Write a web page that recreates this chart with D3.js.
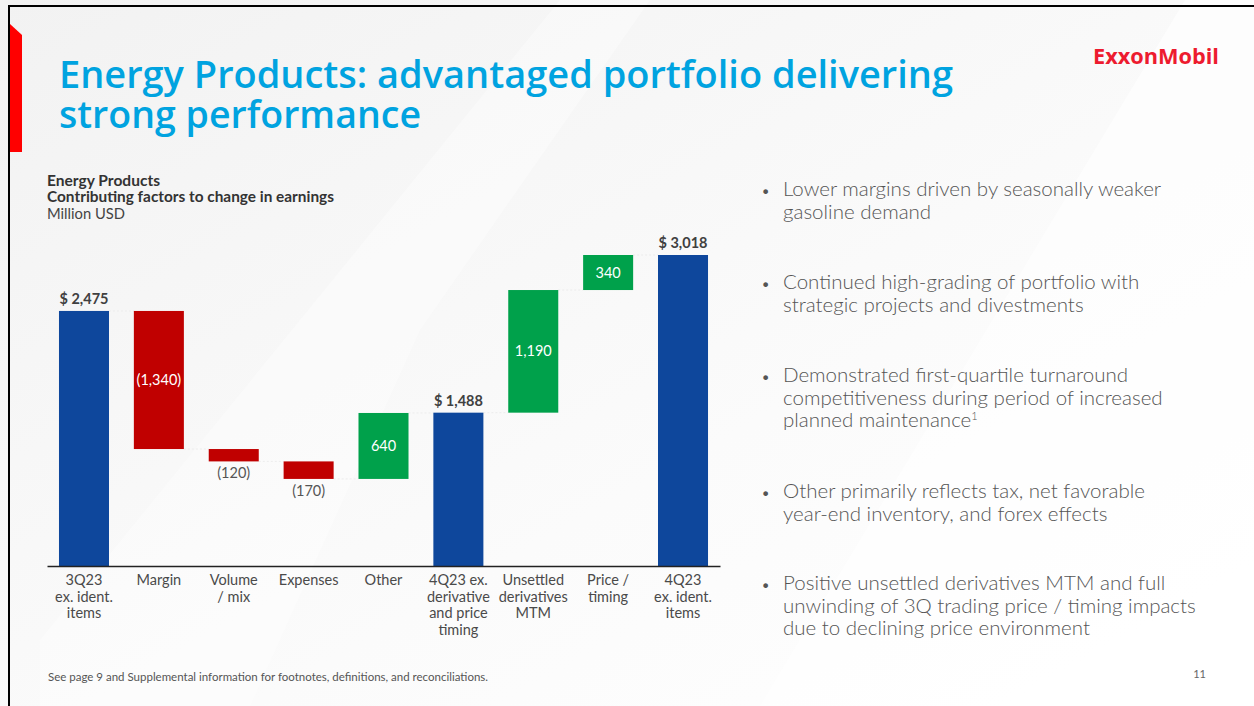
<!DOCTYPE html>
<meta charset="utf-8">
<style>
  body { margin: 0; background: #fff; }
  svg { font-family: Lato, 'Open Sans', sans-serif; display: block; }
</style>
<script src="https://d3js.org/d3.v7.min.js"></script>
<body>
<svg id="slide" width="1254" height="706"></svg>
<script>

// chart data
var categories = ["3Q23 ex. ident. items", "Margin", "Volume / mix", "Expenses", "Other",
                  "4Q23 ex. derivative and price timing", "Unsettled derivatives MTM", "Price / timing",
                  "4Q23 ex. ident. items"];
var labelLines = [["3Q23", "ex. ident.", "items"], ["Margin"], ["Volume", "/ mix"], ["Expenses"], ["Other"],
                  ["4Q23 ex.", "derivative", "and price", "timing"], ["Unsettled", "derivatives", "MTM"],
                  ["Price /", "timing"], ["4Q23", "ex. ident.", "items"]];
var values = [2475, -1340, -120, -170, 640, 1488, 1190, 340, 3018];
var isTotal = [true, false, false, false, false, true, false, false, true];

var bullets = [
  ["Lower margins driven by seasonally weaker", "gasoline demand"],
  ["Continued high-grading of portfolio with", "strategic projects and divestments"],
  ["Demonstrated first-quartile turnaround", "competitiveness during period of increased", "planned maintenance"],
  ["Other primarily reflects tax, net favorable", "year-end inventory, and forex effects"],
  ["Positive unsettled derivatives MTM and full", "unwinding of 3Q trading price / timing impacts", "due to declining price environment"]
];

var svg = d3.select("#slide");

// background
var defs = svg.append("defs");
var grad = defs.append("linearGradient").attr("id", "bg")
  .attr("x1", "0").attr("y1", "0").attr("x2", "1").attr("y2", "1");
grad.append("stop").attr("offset", "0").attr("stop-color", "#f2f2f2");
grad.append("stop").attr("offset", "0.6").attr("stop-color", "#fbfbfb");
grad.append("stop").attr("offset", "1").attr("stop-color", "#ffffff");
svg.append("rect").attr("width", 1254).attr("height", 706).attr("fill", "url(#bg)");
svg.append("polygon").attr("points", "1185,0 1254,0 1254,706 760,706")
  .attr("fill", "#ffffff").attr("opacity", 0.6);
svg.append("polygon").attr("points", "560,0 650,0 420,330 250,706 40,706 40,640")
  .attr("fill", "#ffffff").attr("opacity", 0.35);

// frame + red tab
svg.append("line").attr("x1", 8).attr("x2", 1254).attr("y1", 6).attr("y2", 6)
  .attr("stroke", "#000").attr("stroke-width", 2);
svg.append("line").attr("x1", 9).attr("x2", 9).attr("y1", 5).attr("y2", 706)
  .attr("stroke", "#000").attr("stroke-width", 2);
svg.append("polygon").attr("points", "10,24 22,35 22,152 10,152").attr("fill", "#ff0000");

// title
var title = svg.append("text").attr("fill", "#00a3e0")
  .style("font-family", "'Open Sans', sans-serif").style("font-weight", 600).style("font-size", "37px");
title.append("tspan").attr("x", 59).attr("y", 88).attr("textLength", 894).attr("lengthAdjust", "spacingAndGlyphs")
  .text("Energy Products: advantaged portfolio delivering");
title.append("tspan").attr("x", 59).attr("y", 128).attr("textLength", 362).attr("lengthAdjust", "spacingAndGlyphs")
  .text("strong performance");

// logo
svg.append("text").attr("x", 1093).attr("y", 64).attr("fill", "#ed1b2f")
  .attr("textLength", 126).attr("lengthAdjust", "spacingAndGlyphs")
  .style("font-family", "'Open Sans', sans-serif").style("font-weight", 700).style("font-size", "22px")
  .text("ExxonMobil");

// chart header
var head = svg.append("g").attr("fill", "#333").style("font-size", "14.5px");
head.append("text").attr("x", 47).attr("y", 186).style("font-weight", 700)
  .attr("textLength", 113).attr("lengthAdjust", "spacingAndGlyphs").text("Energy Products");
head.append("text").attr("x", 47).attr("y", 202).style("font-weight", 700)
  .attr("textLength", 287).attr("lengthAdjust", "spacingAndGlyphs").text("Contributing factors to change in earnings");
head.append("text").attr("x", 47).attr("y", 219).attr("fill", "#444")
  .attr("textLength", 78).attr("lengthAdjust", "spacingAndGlyphs").text("Million USD");

// waterfall steps
var steps = [];
var level = 0;
values.forEach(function(v, i) {
  if (isTotal[i]) { steps.push({ i: i, y0: 0, y1: v, v: v }); level = v; }
  else { steps.push({ i: i, y0: level, y1: level + v, v: v }); level += v; }
});

var x = d3.scaleBand().domain(categories).range([47, 720]).paddingInner(0.332).paddingOuter(0.16);
var y = d3.scaleLinear().domain([0, 3018]).range([566, 255]);

var colorOf = function(d) {
  if (isTotal[d.i]) return "#0e479c";
  return d.v < 0 ? "#c00000" : "#00a14b";
};

var chart = svg.append("g");

// faint connectors
chart.selectAll("line.conn").data(steps.slice(0, -1)).enter().append("line")
  .attr("class", "conn")
  .attr("x1", function(d) { return x(categories[d.i]) + x.bandwidth(); })
  .attr("x2", function(d) { return x(categories[d.i + 1]); })
  .attr("y1", function(d) { return y(d.y1); })
  .attr("y2", function(d) { return y(d.y1); })
  .attr("stroke", "#ececec").attr("stroke-width", 1).attr("stroke-dasharray", "2,2");

chart.selectAll("rect.bar").data(steps).enter().append("rect")
  .attr("class", "bar")
  .attr("x", function(d) { return x(categories[d.i]); })
  .attr("width", x.bandwidth())
  .attr("y", function(d) { return y(Math.max(d.y0, d.y1)); })
  .attr("height", function(d) { return Math.abs(y(d.y0) - y(d.y1)); })
  .attr("fill", colorOf);

var fmt = d3.format(",");
var labelText = function(d) {
  if (isTotal[d.i]) return "$ " + fmt(d.v);
  return d.v < 0 ? "(" + fmt(-d.v) + ")" : fmt(d.v);
};

chart.selectAll("text.val").data(steps).enter().append("text")
  .attr("class", "val")
  .attr("text-anchor", "middle")
  .attr("x", function(d) { return x(categories[d.i]) + x.bandwidth() / 2; })
  .attr("y", function(d) {
    var top = y(Math.max(d.y0, d.y1)), bot = y(Math.min(d.y0, d.y1));
    if (isTotal[d.i]) return top - 7;
    if (bot - top > 30) return (top + bot) / 2 + 5;
    return bot + 17;
  })
  .attr("fill", function(d) {
    var h = Math.abs(y(d.y0) - y(d.y1));
    if (isTotal[d.i]) return "#404040";
    return h > 30 ? "#ffffff" : "#555";
  })
  .style("font-size", "14.5px")
  .style("font-weight", function(d) { return isTotal[d.i] ? 700 : 400; })
  .text(labelText);

// category axis
var axis = svg.append("g").attr("transform", "translate(0,566)")
  .call(d3.axisBottom(x).tickSize(0).tickPadding(0));
axis.select(".domain").attr("stroke", "#222").attr("stroke-width", 1.5);
axis.selectAll(".tick text").each(function(c) {
  var t = d3.select(this).text(null).attr("fill", "#4a4a4a").style("font-size", "14.5px")
    .style("font-weight", 400).style("font-family", "Lato, sans-serif").attr("y", 0).attr("dy", null);
  labelLines[categories.indexOf(c)].forEach(function(line, k) {
    t.append("tspan").attr("x", 0).attr("y", 19 + k * 16.5).text(line);
  });
});

// bullets
var bl = svg.append("g").attr("fill", "#555").style("font-size", "20.5px").style("font-weight", 300);
var bulletTop = [196, 289, 382, 498, 590];
bullets.forEach(function(lines, b) {
  bl.append("text").attr("x", 761).attr("y", bulletTop[b]).style("font-size", "16px").text("•");
  var t = bl.append("text");
  lines.forEach(function(line, k) {
    t.append("tspan").attr("x", 783).attr("y", bulletTop[b] + k * 22.5).text(line);
    if (b === 2 && k === 2) t.append("tspan").attr("dy", -7).style("font-size", "11px").text("1");
  });
});

// footnote + page number
svg.append("text").attr("x", 48).attr("y", 681).attr("fill", "#555").style("font-size", "11px")
  .attr("textLength", 440).attr("lengthAdjust", "spacingAndGlyphs")
  .text("See page 9 and Supplemental information for footnotes, definitions, and reconciliations.");
svg.append("text").attr("x", 1206).attr("y", 678).attr("fill", "#666").attr("text-anchor", "end")
  .style("font-size", "11px").text("11");

</script>
</body>
